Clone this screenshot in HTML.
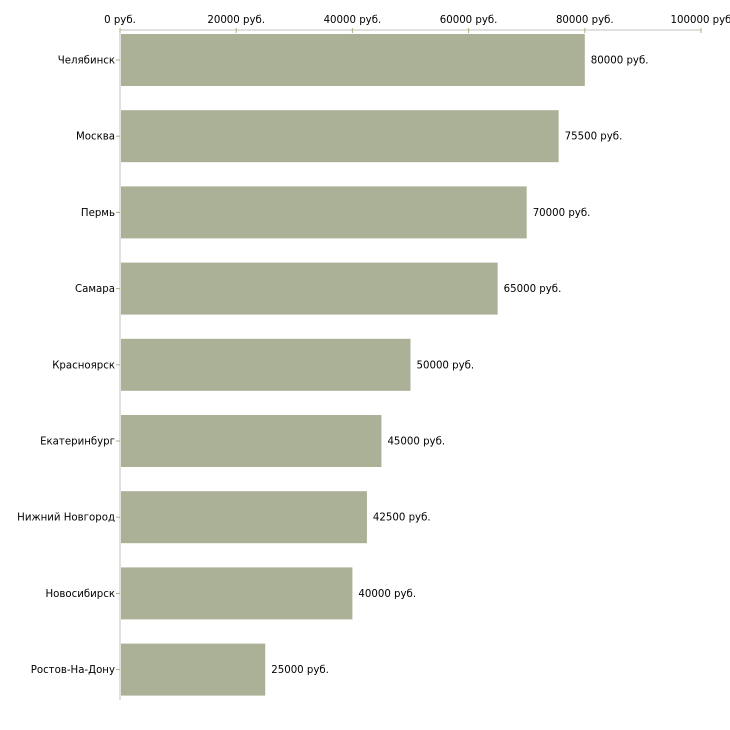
<!DOCTYPE html>
<html><head><meta charset="utf-8">
<style>
body{margin:0;background:#fff;}
svg{display:block;font-family:"DejaVu Sans","Liberation Sans",sans-serif;font-size:10.2px;}
</style></head>
<body>
<svg id="chart" width="730" height="730"></svg>
<script>
const categories=["Челябинск","Москва","Пермь","Самара","Красноярск","Екатеринбург","Нижний Новгород","Новосибирск","Ростов-На-Дону"];
const values=[80000,75500,70000,65000,50000,45000,42500,40000,25000];
const ticks=[0,20000,40000,60000,80000,100000];
const tickLabels=["0 руб.","20000 руб.","40000 руб.","60000 руб.","80000 руб.","100000 руб"];
const NS="http://www.w3.org/2000/svg";
const svg=document.getElementById('chart');
const x0=120,x1=701,yTop=30,step=76.2,barH=52,barOff=4;
const xs=v=>x0+(v/100000)*(x1-x0);
const yb=i=>yTop+i*step;
function mk(t,a,p){const e=document.createElementNS(NS,t);for(const k in a)e.setAttribute(k,a[k]);(p||svg).appendChild(e);return e;}
const ax=mk('line',{x1:x0,y1:yTop,x2:x1,y2:yTop,stroke:'#c0c0b8','stroke-width':1});


const ay=mk('line',{x1:x0,y1:yTop,x2:x0,y2:700,stroke:'#c0c0b8','stroke-width':1});


ticks.forEach((t,i)=>{
  const x=xs(t);
  const tm=mk('line',{x1:x,y1:28,x2:x,y2:33,stroke:'#b0ad80'});
  
  
  const tl=mk('text',{x:x,y:23,'text-anchor':'middle',fill:'#000'});
  tl.textContent=tickLabels[i];
  
  
});
categories.forEach((c,i)=>{
  const y=yb(i)+barOff;
  const r=mk('rect',{x:x0+1,y:y,width:xs(values[i])-x0-1,height:barH,fill:'#abb196'});
  
  
  const cy=y+barH/2;
  const tm=mk('line',{x1:116,y1:cy,x2:120,y2:cy,stroke:'#b0ad80'});
  
  
  const l=mk('text',{x:115,y:cy+3.5,'text-anchor':'end',fill:'#000'});
  l.textContent=c;
  
  
  const v=mk('text',{x:xs(values[i])+6,y:cy+3.5,fill:'#000'});
  v.textContent=values[i]+' руб.';
  
  
});
</script>
</body></html>
